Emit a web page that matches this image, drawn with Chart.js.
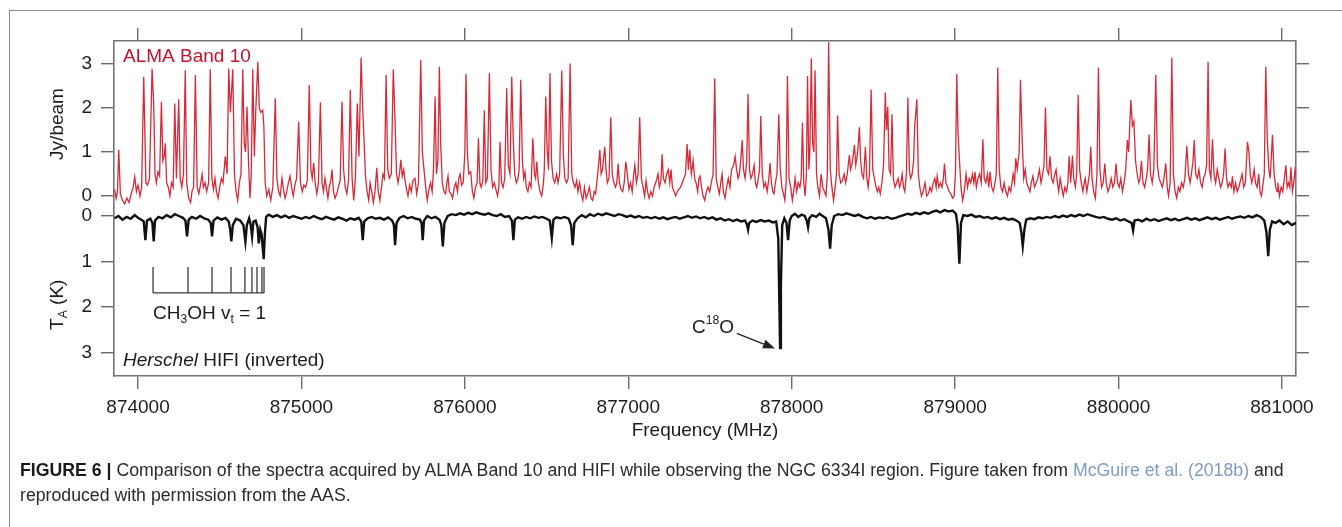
<!DOCTYPE html>
<html>
<head>
<meta charset="utf-8">
<script src="https://cdn.jsdelivr.net/npm/chart.js@4.4.0/dist/chart.umd.min.js"></script>
<style>
  html, body { margin: 0; padding: 0; background: #fff; }
  #wrap { position: relative; width: 1342px; height: 527px; overflow: hidden; }
  #frame { position: absolute; left: 9px; top: 10px; width: 1400px; height: 600px;
           border-top: 1.5px solid #8c8c8c; border-left: 1.5px solid #8c8c8c; }
  #chartBox { position: absolute; left: 0; top: 0; width: 1342px; height: 527px; }
  #caption { position: absolute; left: 20px; top: 458px; white-space: nowrap;
             font-family: 'Liberation Sans', Arial, Helvetica, sans-serif; font-size: 16.5px;
             line-height: 25px; color: #2a2a2a; transform-origin: 0 0; }
  #caption b { color: #1a1a1a; }
  #caption .link { color: #7f9cc4; }
</style>
</head>
<body>
<div id="wrap">
  <div id="frame"></div>
  <div id="chartBox"><canvas id="c"></canvas></div>
  <div id="caption"><span id="line1"><b>FIGURE 6 |</b> Comparison of the spectra acquired by ALMA Band 10 and HIFI while observing the NGC 6334I region. Figure taken from <span class="link">McGuire et al. (2018b)</span> and</span><br>reproduced with permission from the AAS.</div>
</div>
<script>
// ---------------- data ----------------
const freqRange = [873853, 881086];       // MHz, x axis limits
const jyRange = [-0.25, 3.523];            // ALMA panel (Jy/beam)
const kRange = [-0.198, 3.516];            // HIFI panel (K, inverted)
const freqTicks = [874000, 875000, 876000, 877000, 878000, 879000, 880000, 881000];
const jyTicks = [0, 1, 2, 3];
const kTicks = [0, 1, 2, 3];

// ALMA Band 10 spectrum: [frequency MHz, Jy/beam]
const almaSpectrum = [
 [873856,0.15],[873866,-0.05],[873874,0.1],[873882,1.05],[873892,0.05],[873905,-0.1],[873918,-0.18],[873932,-0.05],
 [873945,-0.15],[873958,0.05],[873970,0.2],[873980,0.44],[873990,0.1],[874000,0.25],[874012,0.0],[874022,0.2],
 [874035,2.71],[874048,0.3],[874058,0.25],[874070,0.4],[874086,2.89],[874096,2.1],[874104,0.5],[874112,0.3],
 [874122,0.55],[874132,0.45],[874143,2.14],[874152,0.8],[874160,0.9],[874167,1.2],[874175,0.3],[874185,0.2],
 [874195,0.0],[874205,0.3],[874215,0.2],[874225,2.1],[874235,0.4],[874249,2.2],[874258,0.4],[874268,0.2],
 [874278,0.5],[874289,2.86],[874298,0.3],[874310,-0.05],[874322,-0.15],[874330,0.1],[874340,0.2],[874351,2.75],
 [874362,0.2],[874372,0.05],[874382,0.25],[874392,0.5],[874400,0.2],[874410,0.3],[874420,0.1],[874432,0.3],
 [874442,2.88],[874452,0.4],[874462,0.15],[874471,0.4],[874480,0.1],[874490,-0.05],[874500,0.2],[874510,0.4],
 [874520,0.3],[874534,0.9],[874545,0.5],[874555,2.9],[874565,1.9],[874580,2.88],[874590,0.5],[874600,0.1],
 [874610,-0.1],[874620,0.3],[874630,0.5],[874641,2.88],[874650,1.2],[874658,1.0],[874667,2.03],[874676,0.8],
 [874685,-0.05],[874693,0.5],[874702,2.88],[874712,0.9],[874720,1.9],[874733,3.05],[874742,2.0],[874752,1.9],
 [874763,1.95],[874770,1.6],[874778,0.3],[874788,0.0],[874800,0.15],[874812,-0.1],[874825,0.2],[874840,2.22],
 [874850,0.4],[874860,0.1],[874870,0.0],[874881,0.4],[874890,0.15],[874900,-0.05],[874910,0.1],[874920,0.3],
 [874930,0.45],[874940,0.2],[874950,0.0],[874960,0.25],[874970,0.4],[874983,1.69],[874994,0.3],[875005,0.1],
 [875015,0.25],[875025,0.2],[875036,0.35],[875048,2.52],[875058,0.6],[875066,0.4],[875075,0.75],[875084,0.3],
 [875094,0.05],[875104,0.3],[875116,2.13],[875126,0.3],[875135,0.1],[875144,0.4],[875152,0.2],[875162,-0.05],
 [875170,0.2],[875180,0.35],[875187,0.6],[875196,0.1],[875206,-0.05],[875216,0.05],[875226,0.2],[875237,0.35],
 [875248,2.14],[875258,0.6],[875268,0.2],[875278,0.05],[875288,0.35],[875299,2.41],[875310,0.4],[875320,-0.1],
 [875330,0.4],[875342,2.1],[875352,0.9],[875365,3.15],[875373,2.2],[875382,1.35],[875392,0.45],[875402,0.1],
 [875412,-0.1],[875420,0.3],[875430,0.1],[875440,-0.15],[875450,0.1],[875461,0.64],[875470,0.1],[875480,-0.1],
 [875490,0.2],[875499,0.5],[875508,0.4],[875518,2.75],[875528,0.6],[875538,0.4],[875550,0.5],[875562,2.88],
 [875572,1.8],[875582,0.5],[875591,0.3],[875600,0.5],[875608,0.82],[875617,0.45],[875626,0.6],[875634,0.35],
 [875643,0.15],[875652,0.0],[875662,0.25],[875672,0.1],[875682,0.35],[875695,0.4],[875705,0.05],[875716,0.3],
 [875730,3.09],[875740,1.0],[875750,0.6],[875760,0.2],[875770,-0.1],[875780,0.15],[875790,0.3],[875800,0.1],
 [875808,0.6],[875818,2.26],[875826,0.5],[875835,0.8],[875844,2.94],[875852,1.2],[875862,0.3],[875872,0.1],
 [875882,0.05],[875890,0.3],[875897,0.45],[875905,0.1],[875915,0.05],[875925,-0.05],[875935,0.2],[875945,0.3],
 [875955,0.1],[875963,0.4],[875971,0.5],[875980,0.25],[875990,0.3],[876000,1.0],[876007,2.77],[876015,1.0],
 [876024,0.5],[876036,0.55],[876046,0.1],[876055,-0.05],[876065,0.2],[876075,0.3],[876083,1.31],[876092,0.3],
 [876100,0.2],[876110,0.35],[876119,1.95],[876128,0.3],[876138,0.4],[876150,2.79],[876160,0.6],[876170,0.2],
 [876180,0.3],[876190,0.15],[876200,0.0],[876208,0.2],[876215,1.23],[876224,0.3],[876234,0.2],[876244,0.4],
 [876256,2.45],[876266,0.7],[876276,0.5],[876287,2.71],[876296,1.3],[876305,0.5],[876315,0.3],[876325,0.4],
 [876332,0.6],[876342,2.64],[876352,0.8],[876360,0.4],[876368,0.55],[876376,0.2],[876386,0.1],[876395,0.3],
 [876405,0.2],[876416,1.31],[876426,0.5],[876433,0.4],[876440,0.78],[876450,0.3],[876460,0.1],[876470,0.0],
 [876480,0.25],[876486,0.6],[876495,2.26],[876503,1.1],[876512,0.6],[876521,2.79],[876530,0.8],[876540,0.4],
 [876550,0.3],[876562,0.5],[876570,0.3],[876580,0.5],[876593,2.85],[876603,0.9],[876612,0.4],[876622,0.3],
 [876632,0.4],[876644,3.01],[876654,0.5],[876664,0.3],[876674,0.2],[876684,0.35],[876692,0.1],[876702,0.3],
 [876712,0.05],[876722,-0.1],[876732,0.2],[876742,-0.05],[876752,0.05],[876762,0.2],[876772,-0.05],[876782,-0.1],
 [876792,0.1],[876800,0.05],[876810,0.4],[876818,0.7],[876826,1.05],[876834,0.5],[876842,0.6],[876856,1.12],
 [876864,0.6],[876872,0.3],[876882,0.4],[876893,1.79],[876902,0.5],[876912,0.3],[876922,0.2],[876930,0.3],
 [876938,0.74],[876946,0.3],[876956,0.15],[876966,0.1],[876975,0.3],[876985,0.78],[876994,0.5],[877004,0.15],
 [877014,0.3],[877024,0.1],[877032,0.45],[877040,0.7],[877050,0.3],[877060,0.5],[877070,1.79],[877080,0.4],
 [877090,0.2],[877100,0.0],[877109,0.35],[877118,0.1],[877128,-0.05],[877138,0.1],[877148,0.0],[877158,0.2],
 [877168,0.3],[877182,0.5],[877190,0.2],[877200,0.35],[877207,0.95],[877215,0.4],[877225,0.3],[877235,0.5],
 [877245,0.6],[877254,0.3],[877262,0.6],[877270,0.2],[877280,0.1],[877290,0.0],[877300,0.1],[877310,0.15],
 [877320,0.2],[877330,0.3],[877340,0.4],[877350,0.5],[877360,1.18],[877368,0.6],[877376,1.05],[877386,0.5],
 [877397,0.8],[877406,0.4],[877415,0.3],[877425,0.1],[877432,0.4],[877439,0.45],[877448,0.2],[877458,0.0],
 [877468,-0.1],[877478,0.1],[877488,0.2],[877498,0.1],[877508,0.3],[877519,0.5],[877529,2.67],[877538,0.4],
 [877548,0.2],[877557,0.05],[877566,0.3],[877574,0.5],[877582,0.1],[877592,-0.05],[877602,0.2],[877612,0.4],
 [877622,0.2],[877632,0.6],[877645,0.7],[877654,0.9],[877663,0.6],[877672,0.4],[877680,0.5],[877690,0.9],
 [877697,1.27],[877705,0.6],[877715,0.4],[877725,0.8],[877733,2.32],[877742,0.6],[877750,0.4],[877760,0.5],
 [877770,0.7],[877778,0.3],[877786,0.2],[877796,0.4],[877803,0.6],[877811,1.82],[877820,0.5],[877830,0.2],
 [877840,0.3],[877850,0.1],[877860,0.4],[877868,0.75],[877876,0.3],[877884,0.1],[877892,0.05],[877900,0.3],
 [877910,0.5],[877921,1.86],[877930,0.6],[877940,0.2],[877950,0.05],[877958,-0.1],[877966,0.3],[877974,2.73],
 [877984,0.4],[877994,0.2],[878004,-0.1],[878012,0.1],[878021,0.4],[878030,0.1],[878040,0.3],[878050,0.2],
 [878058,0.4],[878066,1.67],[878074,0.3],[878082,0.0],[878090,0.5],[878097,2.73],[878105,0.6],[878111,1.0],
 [878120,3.13],[878128,1.2],[878136,1.0],[878143,2.86],[878152,0.5],[878160,0.2],[878170,0.0],[878180,0.5],
 [878190,0.2],[878200,0.1],[878210,0.0],[878218,0.5],[878226,3.5],[878236,0.6],[878246,0.2],[878256,-0.1],
 [878266,0.2],[878274,0.5],[878281,1.83],[878290,0.5],[878300,0.3],[878310,0.35],[878321,0.5],[878330,0.3],
 [878340,0.5],[878353,0.93],[878360,0.6],[878368,0.7],[878376,0.9],[878384,1.16],[878392,0.7],[878400,0.9],
 [878406,1.1],[878414,1.56],[878422,0.8],[878430,0.5],[878440,0.4],[878451,1.12],[878460,0.4],[878468,0.2],
 [878476,0.5],[878486,2.42],[878496,0.6],[878506,0.4],[878516,0.2],[878524,0.1],[878532,0.2],[878542,0.05],
 [878552,0.3],[878562,0.7],[878573,2.35],[878580,1.5],[878588,2.03],[878596,0.6],[878605,0.5],[878614,1.86],
 [878622,0.4],[878632,0.2],[878642,0.3],[878651,0.4],[878660,0.2],[878668,0.3],[878676,0.5],[878684,0.2],
 [878692,0.1],[878702,0.5],[878711,2.24],[878720,0.6],[878728,0.4],[878737,0.5],[878746,0.8],[878753,1.6],
 [878766,2.2],[878775,0.5],[878784,0.2],[878794,0.0],[878804,0.1],[878816,0.3],[878826,0.0],[878836,0.05],
 [878846,0.2],[878856,0.1],[878866,0.3],[878876,0.4],[878884,0.2],[878890,0.45],[878900,0.2],[878910,0.3],
 [878920,0.2],[878928,0.4],[878935,0.74],[878944,0.3],[878954,0.2],[878964,0.1],[878974,0.05],[878984,-0.05],
 [878994,0.0],[879002,0.5],[879010,2.77],[879018,1.4],[879027,0.8],[879036,0.2],[879046,-0.1],[879056,0.1],
 [879067,0.5],[879076,0.2],[879086,0.4],[879096,0.3],[879106,0.5],[879115,0.3],[879122,0.55],[879130,0.2],
 [879140,0.4],[879150,0.5],[879160,0.3],[879170,1.29],[879178,0.4],[879188,0.3],[879198,0.5],[879206,0.2],
 [879214,0.55],[879224,0.2],[879234,0.1],[879244,0.3],[879252,0.5],[879261,2.92],[879270,0.6],[879280,0.2],
 [879290,0.1],[879300,0.3],[879310,0.1],[879320,0.0],[879330,0.2],[879340,0.1],[879348,0.3],[879355,0.5],
 [879364,0.3],[879371,0.86],[879380,0.6],[879392,1.0],[879400,2.64],[879410,1.3],[879420,0.4],[879429,0.6],
 [879438,0.3],[879448,0.2],[879458,0.1],[879466,0.3],[879476,0.45],[879486,0.2],[879496,0.3],[879506,0.4],
 [879516,0.6],[879526,0.3],[879536,0.5],[879544,0.7],[879553,2.01],[879562,0.6],[879572,0.5],[879581,0.9],
 [879590,0.4],[879600,0.3],[879610,0.5],[879618,0.6],[879626,0.3],[879634,0.1],[879643,0.4],[879652,0.2],
 [879662,0.0],[879672,0.2],[879682,0.1],[879690,0.3],[879698,0.9],[879707,0.3],[879718,0.92],[879726,0.4],
 [879736,0.2],[879744,0.5],[879753,2.3],[879762,0.6],[879772,0.3],[879782,0.1],[879790,0.3],[879796,0.4],
 [879806,0.1],[879814,0.3],[879822,0.5],[879830,1.12],[879838,0.4],[879848,0.1],[879858,-0.05],[879868,0.5],
 [879877,2.92],[879886,0.6],[879896,0.2],[879906,0.3],[879916,0.74],[879925,0.3],[879935,0.1],[879945,0.2],
 [879955,0.4],[879965,0.2],[879975,0.3],[879985,0.74],[879994,0.3],[880004,0.2],[880014,0.4],[880024,0.1],
 [880034,0.3],[880044,0.6],[880054,1.27],[880062,1.0],[880075,2.18],[880085,1.6],[880094,1.7],[880104,0.8],
 [880114,0.5],[880124,0.3],[880132,0.4],[880140,0.8],[880150,0.3],[880160,0.2],[880170,0.4],[880178,0.6],
 [880187,1.4],[880196,0.5],[880206,0.3],[880216,0.6],[880228,2.75],[880238,0.7],[880248,0.4],[880258,0.3],
 [880268,0.2],[880278,0.4],[880289,0.74],[880298,0.2],[880306,0.0],[880316,0.3],[880326,3.15],[880336,0.5],
 [880346,0.1],[880356,-0.05],[880366,0.2],[880376,0.1],[880386,0.3],[880396,0.2],[880406,0.4],[880418,1.14],
 [880428,0.5],[880438,0.3],[880446,0.5],[880456,0.8],[880463,1.27],[880472,0.5],[880482,0.4],[880492,0.6],
 [880502,0.3],[880512,0.2],[880520,0.4],[880530,0.5],[880539,0.7],[880548,3.05],[880556,0.6],[880565,0.4],
 [880575,1.29],[880584,0.5],[880594,0.3],[880604,0.6],[880614,0.4],[880624,0.2],[880634,0.3],[880643,0.5],
 [880652,1.08],[880661,0.4],[880670,0.2],[880680,0.3],[880690,0.2],[880697,0.45],[880706,0.1],[880716,0.3],
 [880726,0.1],[880736,0.2],[880746,0.35],[880756,0.5],[880766,0.2],[880776,0.3],[880789,1.23],[880798,1.0],
 [880806,0.5],[880815,0.3],[880822,0.4],[880830,0.6],[880838,0.3],[880848,0.2],[880858,0.5],[880866,0.1],
 [880874,0.0],[880882,0.2],[880892,0.5],[880901,2.94],[880910,1.3],[880920,0.6],[880928,0.4],[880942,1.39],
 [880952,0.5],[880962,0.2],[880970,0.1],[880975,0.3],[880985,0.0],[880995,0.2],[881005,0.1],[881015,0.4],
 [881024,0.7],[881032,0.2],[881040,0.3],[881048,0.2],[881055,0.65],[881064,0.1],[881072,0.3],[881080,0.6],
 [881086,0.5]
];

// Herschel HIFI spectrum (plotted inverted): [frequency MHz, T_A K]
const hifiSpectrum = [
 [873856,0.05],[873880,0.0],[873905,0.08],[873930,0.02],[873955,0.06],[873980,-0.02],[874000,0.04],[874020,0.08],
 [874035,0.12],[874045,0.53],[874055,0.1],[874075,0.06],[874088,0.15],[874096,0.56],[874104,0.1],[874125,0.02],
 [874150,0.05],[874175,-0.02],[874200,0.03],[874225,-0.04],[874250,0.0],[874275,0.04],[874290,0.1],[874300,0.45],
 [874310,0.08],[874330,0.02],[874355,0.06],[874380,0.0],[874405,0.05],[874430,0.08],[874445,0.15],[874453,0.45],
 [874462,0.1],[874485,0.03],[874510,0.08],[874535,0.04],[874555,0.12],[874564,0.3],[874571,0.56],[874580,0.2],
 [874600,0.06],[874625,0.1],[874645,0.2],[874657,0.56],[874666,0.2],[874680,0.05],[874690,0.2],[874698,0.45],
 [874706,0.12],[874720,0.1],[874732,0.25],[874739,0.6],[874748,0.3],[874756,0.4],[874762,0.65],[874769,0.95],
 [874776,0.4],[874784,0.02],[874800,-0.03],[874825,0.02],[874850,-0.02],[874875,0.03],[874900,-0.01],[874925,0.04],
 [874950,0.0],[874975,0.03],[875000,0.06],[875025,0.02],[875050,0.05],[875075,0.0],[875100,0.04],[875125,0.07],
 [875150,0.02],[875175,0.05],[875200,0.08],[875225,0.03],[875250,0.06],[875275,0.1],[875300,0.05],[875325,0.08],
 [875350,0.04],[875366,0.12],[875375,0.53],[875384,0.12],[875405,0.05],[875430,0.02],[875455,0.06],[875480,0.04],
 [875505,0.08],[875530,0.03],[875555,0.1],[875566,0.2],[875573,0.64],[875582,0.15],[875600,0.04],[875625,0.0],
 [875650,0.05],[875675,0.02],[875700,0.06],[875725,0.08],[875735,0.15],[875742,0.53],[875750,0.1],[875770,0.0],
 [875795,0.05],[875820,0.02],[875845,0.08],[875856,0.2],[875865,0.67],[875875,0.15],[875895,0.0],[875920,-0.04],
 [875945,-0.02],[875970,-0.06],[875995,-0.03],[876020,-0.07],[876045,-0.04],[876070,-0.08],[876095,-0.05],[876120,-0.03],
 [876145,-0.06],[876170,-0.02],[876195,0.0],[876220,-0.04],[876245,0.02],[876270,0.0],[876288,0.1],[876297,0.53],
 [876306,0.08],[876325,0.03],[876350,0.06],[876375,0.02],[876400,0.05],[876425,0.01],[876450,0.04],[876475,0.02],
 [876500,0.06],[876520,0.1],[876532,0.48],[876542,0.08],[876560,0.03],[876585,0.05],[876610,0.02],[876635,0.06],
 [876650,0.2],[876660,0.64],[876670,0.15],[876690,0.05],[876715,-0.02],[876740,0.03],[876765,-0.04],[876790,0.0],
 [876815,-0.05],[876840,-0.02],[876865,-0.06],[876890,-0.03],[876915,0.0],[876940,-0.04],[876965,-0.02],[876990,0.02],
 [877015,-0.01],[877040,0.03],[877065,0.0],[877090,0.04],[877115,0.02],[877140,0.05],[877165,0.02],[877190,0.06],
 [877215,0.03],[877240,0.07],[877265,0.04],[877290,0.02],[877315,0.06],[877340,0.03],[877365,0.0],[877390,0.04],
 [877415,0.01],[877440,0.05],[877465,0.02],[877490,0.06],[877515,0.03],[877540,0.08],[877565,0.05],[877590,0.1],
 [877615,0.07],[877640,0.11],[877665,0.08],[877690,0.12],[877715,0.1],[877727,0.2],[877733,0.3],[877740,0.15],
 [877760,0.1],[877785,0.13],[877810,0.09],[877835,0.12],[877860,0.1],[877885,0.14],[877905,0.12],[877918,0.5],
 [877924,1.8],[877929,2.9],[877934,1.5],[877942,0.2],[877955,0.05],[877968,0.15],[877978,0.53],[877988,0.1],
 [878000,0.0],[878020,-0.05],[878040,0.02],[878060,-0.03],[878080,0.0],[878092,0.1],[878100,0.25],[878108,0.05],
 [878125,-0.02],[878150,0.02],[878170,-0.05],[878190,0.0],[878210,0.05],[878225,0.3],[878235,0.72],[878245,0.2],
 [878260,0.0],[878285,-0.04],[878310,-0.02],[878335,-0.06],[878360,-0.03],[878385,0.0],[878410,-0.03],[878435,0.02],
 [878460,0.05],[878485,0.02],[878510,0.06],[878535,0.03],[878560,0.05],[878585,0.02],[878610,0.06],[878635,0.04],
 [878660,0.01],[878685,-0.02],[878710,-0.05],[878735,-0.03],[878760,-0.07],[878785,-0.04],[878810,-0.08],[878835,-0.05],
 [878860,-0.09],[878885,-0.12],[878910,-0.08],[878935,-0.13],[878960,-0.1],[878985,-0.12],[879005,-0.05],[879015,0.2],
 [879026,1.05],[879036,0.15],[879050,-0.02],[879075,0.0],[879100,-0.03],[879125,0.02],[879150,0.0],[879175,0.04],
 [879200,0.02],[879225,0.06],[879250,0.03],[879275,0.07],[879300,0.04],[879325,0.08],[879350,0.06],[879375,0.1],
 [879395,0.15],[879405,0.35],[879414,0.66],[879424,0.3],[879435,0.08],[879460,0.05],[879485,0.07],[879510,0.03],
 [879535,0.05],[879560,0.02],[879585,0.04],[879610,0.0],[879635,0.03],[879660,-0.01],[879685,0.02],[879710,-0.02],
 [879735,0.01],[879760,-0.03],[879785,0.0],[879810,-0.04],[879835,-0.01],[879860,0.02],[879885,0.04],[879910,0.02],
 [879935,0.06],[879960,0.08],[879985,0.05],[880010,0.1],[880035,0.07],[880060,0.12],[880080,0.15],[880089,0.32],
 [880098,0.1],[880120,0.08],[880145,0.12],[880170,0.06],[880195,0.1],[880220,0.07],[880245,0.11],[880270,0.08],
 [880295,0.05],[880320,0.09],[880345,0.06],[880370,0.1],[880395,0.07],[880420,0.04],[880445,0.08],[880470,0.05],
 [880495,0.09],[880520,0.06],[880545,0.03],[880570,0.07],[880595,0.04],[880620,0.08],[880645,0.05],[880670,0.02],
 [880695,0.06],[880720,0.03],[880745,0.01],[880770,0.04],[880795,0.0],[880820,0.03],[880845,-0.02],[880870,0.02],
 [880892,0.1],[880905,0.35],[880916,0.88],[880926,0.3],[880940,0.12],[880960,0.15],[880985,0.1],[881010,0.18],
 [881035,0.12],[881060,0.2],[881086,0.15]
];

// CH3OH v_t = 1 line positions (MHz), marked by the comb under the HIFI spectrum
const ch3ohLines = [874092, 874306, 874453, 874569, 874654, 874697, 874728, 874758, 874771];
const combK = [1.12, 1.69];                 // comb extent in K (inverted axis)
const c18oLabel = [877390, 2.46];           // label anchor [MHz, K]
const c18oArrow = [[877664, 2.58], [877898, 2.91]];

// ---------------- styling ----------------
const FONT = "'Liberation Sans', Arial, Helvetica, sans-serif";
const TXT = '#1c1c1c';
const AXIS = '#747474';
const RED_LINE = 'rgb(214, 42, 56)';
const RED_TEXT = 'rgb(196, 18, 44)';

Chart.defaults.font.family = FONT;
Chart.defaults.color = TXT;

function drawRich(ctx, x, y, segs, size, color, align) {
  const parts = segs.map(s => {
    const small = s.sub || s.sup;
    const fs = small ? size * 0.64 : size;
    const font = (s.it ? 'italic ' : '') + fs + 'px ' + FONT;
    ctx.font = font;
    return { s, font, w: ctx.measureText(s.t).width, dy: s.sub ? size * 0.3 : (s.sup ? -size * 0.36 : 0) };
  });
  const total = parts.reduce((a, p) => a + p.w, 0);
  let cx = align === 'center' ? x - total / 2 : x;
  ctx.fillStyle = color; ctx.textBaseline = 'middle'; ctx.textAlign = 'left';
  for (const p of parts) { ctx.font = p.font; ctx.fillText(p.s.t, cx, y + p.dy); cx += p.w; }
}

const overlay = {
  id: 'overlay',
  afterDatasetsDraw(chart) {
    const { ctx, chartArea: a, scales } = chart;
    const xs = scales.x, yK = scales.yK;
    ctx.save();
    // panel labels
    ctx.font = '19px ' + FONT; ctx.fillStyle = RED_TEXT; ctx.textBaseline = 'middle'; ctx.textAlign = 'left';
    ctx.fillText('ALMA Band 10', a.left + 9, a.top + 16);
    drawRich(ctx, a.left + 9, a.bottom - 15, [{ t: 'Herschel', it: true }, { t: ' HIFI (inverted)' }], 19, TXT);
    // CH3OH comb
    const yT = yK.getPixelForValue(combK[0]), yB = yK.getPixelForValue(combK[1]);
    ctx.strokeStyle = '#3a3a3a'; ctx.lineWidth = 1.3;
    ctx.beginPath();
    ch3ohLines.forEach(f => { const px = xs.getPixelForValue(f); ctx.moveTo(px, yT); ctx.lineTo(px, yB); });
    ctx.moveTo(xs.getPixelForValue(ch3ohLines[0]), yB);
    ctx.lineTo(xs.getPixelForValue(ch3ohLines[ch3ohLines.length - 1]), yB);
    ctx.stroke();
    drawRich(ctx, xs.getPixelForValue(ch3ohLines[0]), yK.getPixelForValue(2.15),
      [{ t: 'CH' }, { t: '3', sub: true }, { t: 'OH v' }, { t: 't', sub: true }, { t: ' = 1' }], 19, TXT);
    // C18O label + arrow
    drawRich(ctx, xs.getPixelForValue(c18oLabel[0]), yK.getPixelForValue(c18oLabel[1]),
      [{ t: 'C' }, { t: '18', sup: true }, { t: 'O' }], 19, TXT);
    const x0 = xs.getPixelForValue(c18oArrow[0][0]), y0 = yK.getPixelForValue(c18oArrow[0][1]);
    const x1 = xs.getPixelForValue(c18oArrow[1][0]), y1 = yK.getPixelForValue(c18oArrow[1][1]);
    const ang = Math.atan2(y1 - y0, x1 - x0), L = 12, W = 4.5;
    ctx.strokeStyle = '#222'; ctx.fillStyle = '#222'; ctx.lineWidth = 1.3;
    ctx.beginPath(); ctx.moveTo(x0, y0);
    ctx.lineTo(x1 - L * Math.cos(ang), y1 - L * Math.sin(ang)); ctx.stroke();
    ctx.beginPath(); ctx.moveTo(x1, y1);
    ctx.lineTo(x1 - L * Math.cos(ang) + W * Math.sin(ang), y1 - L * Math.sin(ang) - W * Math.cos(ang));
    ctx.lineTo(x1 - L * Math.cos(ang) - W * Math.sin(ang), y1 - L * Math.sin(ang) + W * Math.cos(ang));
    ctx.closePath(); ctx.fill();
    // T_A axis title
    ctx.translate(58, yK.getPixelForValue(1.95));
    ctx.rotate(-Math.PI / 2);
    drawRich(ctx, 0, 0, [{ t: 'T' }, { t: 'A', sub: true }, { t: ' (K)' }], 19, TXT, 'center');
    ctx.restore();
  }
};

const grid = { drawOnChartArea: false, drawTicks: true, tickLength: 13, color: '#6a6a6a', lineWidth: 1.4 };
const border = { display: true, color: AXIS, width: 1.6 };
const numLabel = v => String(v);
const fixedTicks = vals => s => { s.ticks = vals.map(v => ({ value: v })); };

new Chart(document.getElementById('c'), {
  type: 'line',
  data: {
    datasets: [
      { label: 'ALMA Band 10', data: almaSpectrum.map(([x, y]) => ({ x, y })), xAxisID: 'x', yAxisID: 'yJy',
        borderColor: RED_LINE, borderWidth: 1.3, pointRadius: 0, tension: 0, fill: false },
      { label: 'Herschel HIFI (inverted)', data: hifiSpectrum.map(([x, y]) => ({ x, y })), xAxisID: 'x', yAxisID: 'yK',
        borderColor: '#111', borderWidth: 2.4, pointRadius: 0, tension: 0, fill: false }
    ]
  },
  options: {
    responsive: true, maintainAspectRatio: false, animation: false,
    layout: { padding: { left: 44, top: 28, right: 32, bottom: 81 } },
    plugins: { legend: { display: false }, tooltip: { enabled: false }, title: { display: false } },
    scales: {
      x: { type: 'linear', position: 'bottom', min: freqRange[0], max: freqRange[1],
           afterBuildTicks: fixedTicks(freqTicks),
           ticks: { callback: numLabel, font: { size: 19 }, color: TXT, padding: 7, maxRotation: 0, autoSkip: false },
           grid, border,
           title: { display: true, text: 'Frequency (MHz)', font: { size: 19 }, color: TXT, padding: { top: 0, bottom: 4 } },
           afterFit: s => { s.height = 70; } },
      xTop: { type: 'linear', position: 'top', min: freqRange[0], max: freqRange[1],
           afterBuildTicks: fixedTicks(freqTicks), ticks: { display: false },
           grid, border, afterFit: s => { s.height = 13; } },
      yK: { type: 'linear', position: 'left', stack: 'L', stackWeight: 169, reverse: true, min: kRange[0], max: kRange[1],
           afterBuildTicks: fixedTicks(kTicks),
           ticks: { callback: numLabel, font: { size: 19 }, color: TXT, padding: 9 },
           grid, border, afterFit: s => { s.width = 70; } },
      yJy: { type: 'linear', position: 'left', stack: 'L', stackWeight: 166, min: jyRange[0], max: jyRange[1],
           afterBuildTicks: fixedTicks(jyTicks),
           ticks: { callback: numLabel, font: { size: 19 }, color: TXT, padding: 9 },
           grid, border,
           title: { display: true, text: 'Jy/beam', font: { size: 19 }, color: TXT, padding: { top: 2.6, bottom: 0 } },
           afterFit: s => { s.width = 70; } },
      yJyR: { type: 'linear', position: 'right', stack: 'R', stackWeight: 166, min: jyRange[0], max: jyRange[1],
           afterBuildTicks: fixedTicks(jyTicks), ticks: { display: false },
           grid, border, afterFit: s => { s.width = 14; } },
      yKR: { type: 'linear', position: 'right', stack: 'R', stackWeight: 169, reverse: true, min: kRange[0], max: kRange[1],
           afterBuildTicks: fixedTicks(kTicks), ticks: { display: false },
           grid, border, afterFit: s => { s.width = 14; } }
    }
  },
  plugins: [overlay]
});

// fit caption line 1 to the reference width
(function () {
  const cap = document.getElementById('caption');
  const l1 = document.getElementById('line1');
  const w = l1.getBoundingClientRect().width;
  const target = 1265;
  cap.style.fontSize = (16.5 * target / w).toFixed(2) + 'px';
})();
</script>
</body>
</html>
